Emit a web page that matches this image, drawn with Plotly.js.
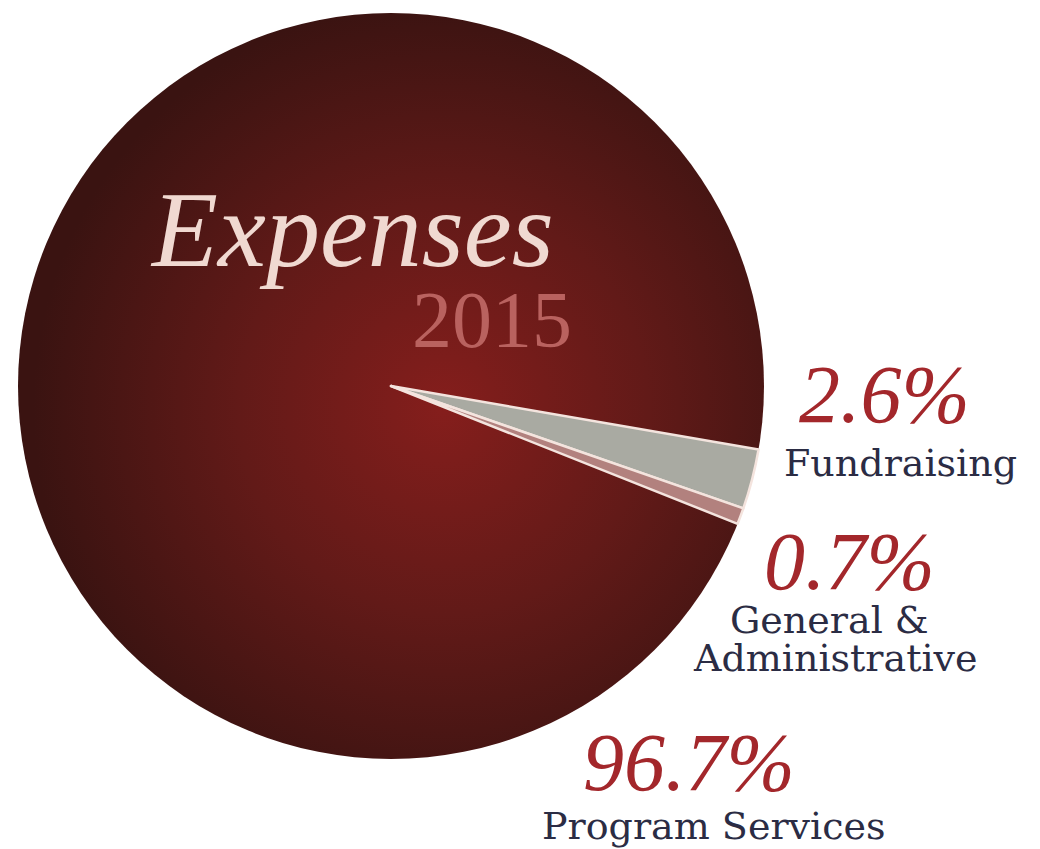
<!DOCTYPE html>
<html>
<head>
<meta charset="utf-8">
<script src="https://cdn.plot.ly/plotly-3.0.1.min.js"></script>
<style>html,body{margin:0;padding:0;background:#fff;}#chart{width:1040px;height:849px;}</style>
</head>
<body>
<div id="chart"></div>
<script>
// ---- data ----
var categories = ["Fundraising", "General &<br>Administrative", "Program Services"];
var values = [2.6, 0.7, 96.7];
var pctLabels = ["2.6%", "0.7%", "96.7%"];
var titleWord = "Expenses";
var titleYear = "2015";

// ---- style ----
var sliceColors = ["#a9aaa2", "#b2817e", "rgba(0,0,0,0)"];
var W = 1040, H = 849;
function px(x) { return x / W; }
function py(y) { return 1 - y / H; }

var grad = '<svg xmlns="http://www.w3.org/2000/svg" width="746" height="746">' +
  '<defs><radialGradient id="g" cx="0.57" cy="0.53" r="0.55">' +
  '<stop offset="0" stop-color="#851e1c"/><stop offset="0.5" stop-color="#621a18"/>' +
  '<stop offset="1" stop-color="#3a1311"/></radialGradient></defs>' +
  '<circle cx="373" cy="373" r="373" fill="url(#g)"/></svg>';
var gradUri = 'data:image/svg+xml;charset=utf-8,' + encodeURIComponent(grad);

var trace = {
  type: "pie",
  labels: categories,
  values: values,
  sort: false,
  direction: "clockwise",
  rotation: 99.8,
  textinfo: "none",
  hoverinfo: "label+percent",
  marker: { colors: sliceColors, line: { color: "#f4e4de", width: [2.5, 2.5, 0] } },
  domain: { x: [px(18), px(764)], y: [py(759), py(13)] },
  showlegend: false
};

var labelFont = { family: "DejaVu Serif", size: 38, color: "#2b2c44" };
var pctFont = { family: "Liberation Serif", size: 82, color: "#a3272b", style: "italic" };
var gaLines = categories[1].split("<br>");

var annotations = [
  { text: titleWord, x: px(352), y: py(230), font: { family: "Liberation Serif", size: 108, color: "#f0d9d1", style: "italic" } },
  { text: titleYear, x: px(492), y: py(320), font: { family: "Liberation Serif", size: 80, color: "#b9625f" } },
  { text: pctLabels[0], x: px(884), y: py(394), font: pctFont },
  { text: categories[0], x: px(900), y: py(463), font: labelFont },
  { text: pctLabels[1], x: px(849), y: py(561), font: pctFont },
  { text: gaLines[0], x: px(829), y: py(620), font: labelFont },
  { text: gaLines[1], x: px(835), y: py(658), font: labelFont },
  { text: pctLabels[2], x: px(689), y: py(762), font: pctFont },
  { text: categories[2], x: px(713), y: py(826), font: labelFont }
].map(function (a) {
  return Object.assign({ xref: "paper", yref: "paper", showarrow: false, xanchor: "center", yanchor: "middle", align: "center" }, a);
});

var layout = {
  width: W, height: H,
  margin: { l: 0, r: 0, t: 0, b: 0 },
  paper_bgcolor: "#ffffff",
  plot_bgcolor: "#ffffff",
  images: [{ source: gradUri, xref: "paper", yref: "paper", x: px(18), y: py(13), sizex: px(746), sizey: 746 / H, xanchor: "left", yanchor: "top", sizing: "stretch", layer: "below" }],
  annotations: annotations
};

Plotly.newPlot("chart", [trace], layout, { displayModeBar: false, staticPlot: true });
</script>
</body>
</html>
